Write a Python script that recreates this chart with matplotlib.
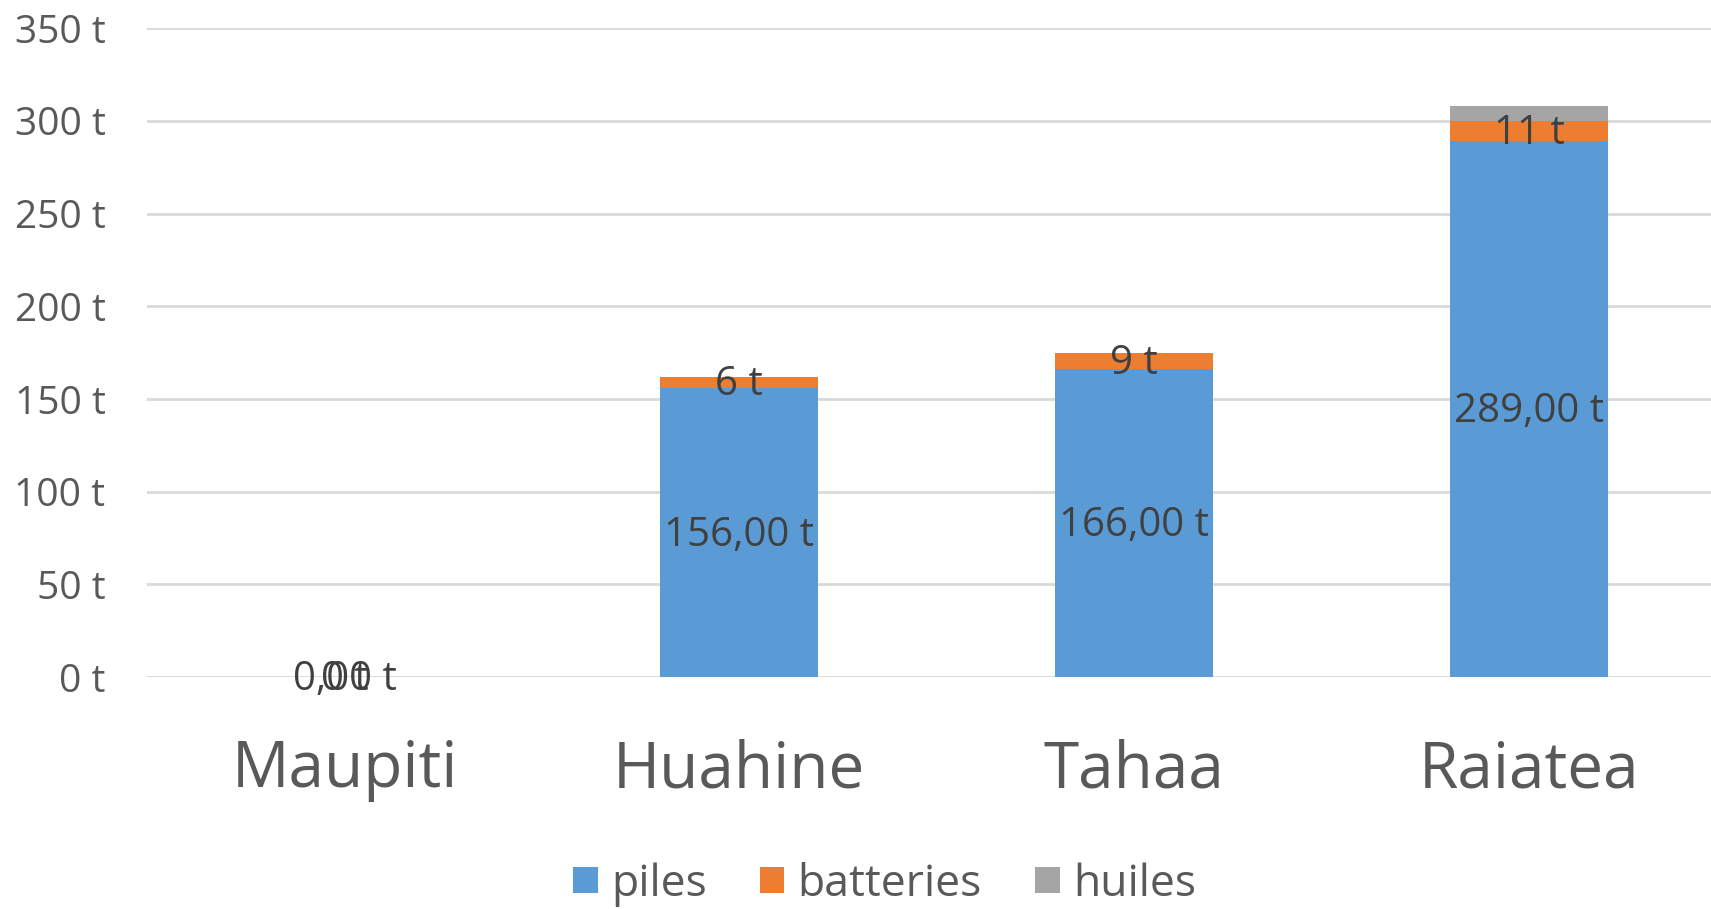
import numpy as np
import matplotlib.pyplot as plt
from matplotlib.ticker import FuncFormatter

plt.rcParams['font.family'] = ['Open Sans', 'DejaVu Sans']

categories = ['Maupiti', 'Huahine', 'Tahaa', 'Raiatea']
piles = [0, 156, 166, 289]
batteries = [0, 6, 9, 11]
huiles = [0, 0, 0, 8]

blue = '#5B9BD5'
orange = '#ED7D31'
grey = '#A5A5A5'

fig = plt.figure(figsize=(17.11, 9.09), dpi=100)
ax = fig.add_axes([0.086, 0.255, 0.923, 0.714])

x = np.arange(len(categories))
w = 0.4
piles = np.array(piles)
batteries = np.array(batteries)
huiles = np.array(huiles)

b1 = ax.bar(x, piles, w, color=blue, label='piles', zorder=2)
b2 = ax.bar(x, batteries, w, bottom=piles, color=orange, label='batteries', zorder=2)
b3 = ax.bar(x, huiles, w, bottom=piles + batteries, color=grey, label='huiles', zorder=2)

lab_color = '#404040'
for i in range(len(categories)):
    ax.text(x[i], piles[i] / 2 - 1.5, f'{piles[i]:.2f} t'.replace('.', ','),
            ha='center', va='center', fontsize=29, color=lab_color, zorder=3)
    ax.text(x[i], piles[i] + batteries[i] / 2 - 1.5, f'{batteries[i]} t',
            ha='center', va='center', fontsize=29, color=lab_color, zorder=3)

ax.set_ylim(0, 350)
ax.set_xlim(-0.5, 3.5)
ax.set_yticks(np.arange(0, 351, 50))
ax.yaxis.set_major_formatter(FuncFormatter(lambda v, p: f'{int(v)} t'))
ax.grid(axis='y', color='#D9D9D9', linewidth=2, zorder=0)
for s in ax.spines.values():
    s.set_visible(False)
ax.tick_params(axis='y', length=0, labelsize=28, labelcolor='#595959', pad=30)
ax.tick_params(axis='x', length=0, labelsize=46, labelcolor='#595959', pad=44)
ax.set_xticks(x)
ax.set_xticklabels(categories)

leg = fig.legend(handles=[b1, b2, b3], loc='center', bbox_to_anchor=(0.517, 0.027),
                 ncol=3, frameon=False, fontsize=32, handlelength=0.55, handleheight=0.55,
                 handletextpad=0.3, columnspacing=1.2, labelcolor='#595959')

fig.savefig('out.png', dpi=100)
